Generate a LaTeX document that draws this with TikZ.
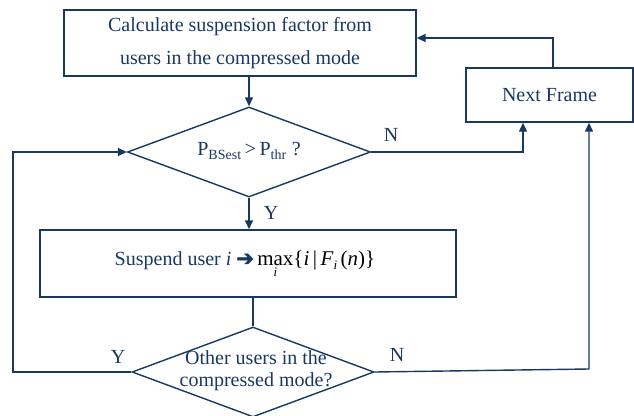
\documentclass[tikz,border=0pt]{standalone}
\usepackage{fontspec}
\setmainfont{Liberation Serif}
\newfontfamily\symfont[FakeBold=2.5]{DejaVu Sans}
\usetikzlibrary{shapes.geometric,arrows.meta}
\definecolor{navy}{RGB}{24,56,98}
\newcommand{\smi}{{\fontsize{13}{13}\selectfont\itshape i}}
\begin{document}
\begin{tikzpicture}[x=1pt,y=-1pt,
  every node/.style={text=navy,font=\fontsize{20}{23}\selectfont},
  boxnode/.style={draw=navy,line width=1.4pt,rectangle,inner sep=0pt},
  decnode/.style={draw=navy,line width=1.4pt,diamond,inner sep=0pt},
  conn/.style={draw=navy,line width=1.4pt},
  arr/.style={conn,-{Triangle[length=9pt,width=8pt]}}]
\useasboundingbox (0,0) rectangle (634,415);
\node[boxnode,minimum width=352pt,minimum height=66pt,align=center,
      font=\fontsize{20}{33}\selectfont] (top) at (240,43)
  {Calculate suspension factor from\\users in the compressed mode};
\node[decnode,minimum width=243pt,minimum height=90pt] (d1) at (249,152) {};
\node (t1) at (249,151) {P\textsubscript{BSest}\,>\,P\textsubscript{thr} ?};
\node[boxnode,minimum width=416pt,minimum height=67pt] (b2) at (248,263.5) {};
\node (t2) at (245,264) {Suspend user \textit{i} {\symfont\fontsize{21}{20}\selectfont ➔}\,{\color{black}\fontsize{21}{23}\selectfont$\mathop{\hbox{max}}\limits_{\hbox{\smi}}$\{\textit{i}\,|\,\textit{F}\raisebox{-4pt}{\smi}\,(\textit{n})\}}};
\node[decnode,minimum width=242pt,minimum height=90pt] (d2) at (253,372) {};
\node[align=center,font=\fontsize{20}{22}\selectfont] (t3) at (256,371) {Other users in the\\compressed mode?};
\node[boxnode,minimum width=167pt,minimum height=54pt] (nf) at (549.5,95) {Next Frame};
\coordinate (n1) at (523,152);
\coordinate (n2) at (589,369);
\coordinate (y2) at (13,372);
\coordinate (y1) at (13,152);
\coordinate (up) at (553,38);
\draw[arr] (d1.north |- top.south) -- (d1.north);
\draw[arr] (d1.south) -- (d1.south |- b2.north);
\draw[conn] (d2.north |- b2.south) -- (d2.north);
\draw[arr] (d1.east) -- (n1) -- (n1 |- nf.south);
\draw[arr] (d2.east) -- (n2) -- (n2 |- nf.south);
\draw[arr] (up |- nf.north) -- (up) -- (up -| top.east);
\draw[arr] (d2.west) -- (y2) -- (y1) -- (d1.west);
\node (lN1) at (391,135) {N};
\node (lY1) at (271,213) {Y};
\node (lY2) at (118,357) {Y};
\node (lN2) at (397,355) {N};
\end{tikzpicture}
\end{document}
